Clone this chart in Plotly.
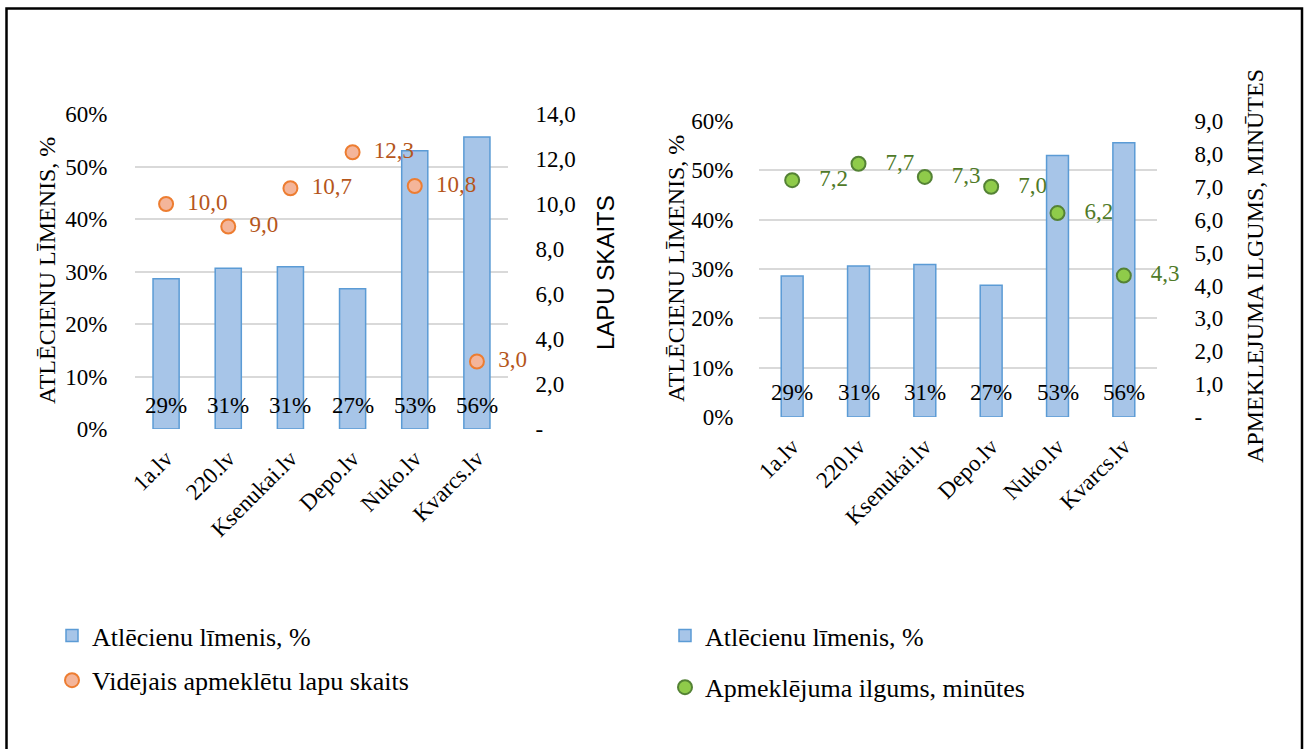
import plotly.graph_objects as go

W, H = 1307, 749

categories = ["1a.lv", "220.lv", "Ksenukai.lv", "Depo.lv", "Nuko.lv", "Kvarcs.lv"]
bounce_rate = [0.286, 0.306, 0.309, 0.267, 0.530, 0.556]
bounce_labels = ["29%", "31%", "31%", "27%", "53%", "56%"]
pages_visited = [10.0, 9.0, 10.7, 12.3, 10.8, 3.0]
visit_minutes = [7.2, 7.7, 7.3, 7.0, 6.2, 4.3]

pct_ticks = [0, 0.1, 0.2, 0.3, 0.4, 0.5, 0.6]
pages_ticks = [0, 2, 4, 6, 8, 10, 12, 14]
pages_ticktext = ["-", "2,0", "4,0", "6,0", "8,0", "10,0", "12,0", "14,0"]
min_ticks = [0, 1, 2, 3, 4, 5, 6, 7, 8, 9]
min_ticktext = ["-", "1,0", "2,0", "3,0", "4,0", "5,0", "6,0", "7,0", "8,0", "9,0"]

SERIF = "Liberation Serif"
SANS = "Liberation Sans"
BAR_FILL = "#A7C5E8"
BAR_LINE = "#5B9BD5"
GRID = "#D9D9D9"
FS = 23
LFS = 26


def px_x(p):
    return p / W


def px_y(p):
    return 1 - p / H


fig = go.Figure()

# ---- Left chart ----
fig.add_trace(go.Bar(
    x=categories, y=bounce_rate, name="Atlēcienu līmenis, %",
    marker=dict(color=BAR_FILL, line=dict(color=BAR_LINE, width=1.5)),
    width=0.42, xaxis="x", yaxis="y", legend="legend", legendgroup="a",
))
fig.add_trace(go.Scatter(
    x=categories, y=pages_visited, name="Vidējais apmeklētu lapu skaits",
    mode="markers+text", texttemplate="  %{y:.1f}", textposition="middle right",
    textfont=dict(family=SERIF, size=FS, color="#B5561B"),
    marker=dict(size=14, color="#F4B59A", line=dict(color="#ED7D31", width=2)),
    xaxis="x", yaxis="y2", legend="legend", legendgroup="b", cliponaxis=False,
))

# ---- Right chart ----
fig.add_trace(go.Bar(
    x=categories, y=bounce_rate, name="Atlēcienu līmenis, %",
    marker=dict(color=BAR_FILL, line=dict(color=BAR_LINE, width=1.5)),
    width=0.33, xaxis="x3", yaxis="y3", legend="legend2", legendgroup="c",
))
fig.add_trace(go.Scatter(
    x=categories, y=visit_minutes, name="Apmeklējuma ilgums, minūtes",
    mode="markers+text", texttemplate="   %{y:.1f}", textposition="middle right",
    textfont=dict(family=SERIF, size=FS, color="#4F7A28"),
    marker=dict(size=14, color="#8FCB4A", line=dict(color="#548235", width=2)),
    xaxis="x3", yaxis="y4", legend="legend2", legendgroup="d", cliponaxis=False,
))

annotations = []
for xa, ya in (("x", "y"), ("x3", "y3")):
    for c, lab in zip(categories, bounce_labels):
        annotations.append(dict(
            x=c, y=0, xref=xa, yref=ya, text=lab, showarrow=False,
            yanchor="middle", yshift=24,
            font=dict(family=SERIF, size=FS, color="black"),
        ))

# axis titles
annotations += [
    dict(x=px_x(47), y=px_y(271), xref="paper", yref="paper", text="ATLĒCIENU LĪMENIS, %",
         textangle=-90, showarrow=False, xanchor="center", yanchor="middle",
         font=dict(family=SERIF, size=24, color="black")),
    dict(x=px_x(606), y=px_y(273), xref="paper", yref="paper", text="LAPU SKAITS",
         textangle=-90, showarrow=False, xanchor="center", yanchor="middle",
         font=dict(family=SANS, size=24, color="black")),
    dict(x=px_x(676), y=px_y(269), xref="paper", yref="paper", text="ATLĒCIENU LĪMENIS, %",
         textangle=-90, showarrow=False, xanchor="center", yanchor="middle",
         font=dict(family=SERIF, size=24, color="black")),
    dict(x=px_x(1255), y=px_y(266), xref="paper", yref="paper", text="APMEKLEJUMA ILGUMS, MINŪTES",
         textangle=-90, showarrow=False, xanchor="center", yanchor="middle",
         font=dict(family=SERIF, size=24, color="black")),
]

tickfont = dict(family=SERIF, size=FS, color="black")

xcommon = dict(type="category", showgrid=False, showline=False, zeroline=False,
               tickangle=-45, tickfont=tickfont, ticks="outside", ticklen=6,
               tickcolor="rgba(0,0,0,0)", automargin=False)
ycommon = dict(showgrid=True, gridcolor=GRID, gridwidth=1.5, zeroline=False,
               showline=False, tickfont=tickfont, ticks="outside",
               tickcolor="rgba(0,0,0,0)", automargin=False)

fig.update_layout(
    width=W, height=H,
    margin=dict(l=0, r=0, t=0, b=0, autoexpand=False),
    paper_bgcolor="white", plot_bgcolor="white",
    separators=", ",
    barmode="overlay",
    font=dict(family=SERIF, size=FS, color="black"),
    xaxis=dict(domain=[px_x(135), px_x(508)], anchor="y", **xcommon),
    yaxis=dict(domain=[px_y(429), px_y(114)], anchor="x", range=[0, 0.6],
               tickvals=pct_ticks, tickformat=".0%", ticklen=22, **ycommon),
    yaxis2=dict(overlaying="y", side="right", anchor="x", range=[0, 14],
                tickvals=pages_ticks, ticktext=pages_ticktext, showgrid=False,
                zeroline=False, showline=False, tickfont=tickfont, ticks="outside",
                ticklen=22, tickcolor="rgba(0,0,0,0)", automargin=False),
    xaxis3=dict(domain=[px_x(759), px_x(1157)], anchor="y3", **xcommon),
    yaxis3=dict(domain=[px_y(417), px_y(121)], anchor="x3", range=[0, 0.6],
                tickvals=pct_ticks, tickformat=".0%", ticklen=20, **ycommon),
    yaxis4=dict(overlaying="y3", side="right", anchor="x3", range=[0, 9],
                tickvals=min_ticks, ticktext=min_ticktext, showgrid=False,
                zeroline=False, showline=False, tickfont=tickfont, ticks="outside",
                ticklen=32, tickcolor="rgba(0,0,0,0)", automargin=False),
    legend=dict(x=px_x(52), y=px_y(612), xanchor="left", yanchor="top",
                font=dict(family=SERIF, size=LFS, color="black"),
                tracegroupgap=8, bgcolor="rgba(0,0,0,0)", itemwidth=30),
    legend2=dict(x=px_x(665), y=px_y(612), xanchor="left", yanchor="top",
                 font=dict(family=SERIF, size=LFS, color="black"),
                 tracegroupgap=15, bgcolor="rgba(0,0,0,0)", itemwidth=30),
    annotations=annotations,
    shapes=[dict(type="rect", xref="paper", yref="paper",
                 x0=px_x(6.5), x1=px_x(1302), y0=px_y(752), y1=px_y(8.5),
                 line=dict(color="black", width=2.5), fillcolor="rgba(0,0,0,0)")],
    showlegend=True,
)

fig.write_html("out.html", config={"displayModeBar": False},
               post_script="document.body.style.margin='0px';")
